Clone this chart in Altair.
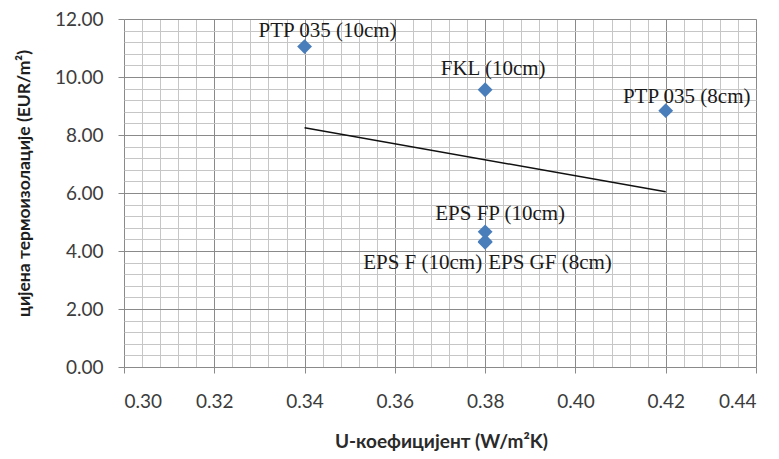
import altair as alt
import pandas as pd

# ---- data ----
names = ["PTP 035 (10cm)", "FKL (10cm)", "PTP 035 (8cm)", "EPS FP (10cm)", "EPS F (10cm)", "EPS GF (8cm)"]
u_values = [0.34, 0.38, 0.42, 0.38, 0.38, 0.38]
prices = [11.05, 9.56, 8.84, 4.66, 4.33, 4.30]

trend_u = [0.34, 0.42]
trend_price = [8.25, 6.04]

major_x = [0.30, 0.32, 0.34, 0.36, 0.38, 0.40, 0.42, 0.44]
major_y = [0, 2, 4, 6, 8, 10, 12]
minor_x = [round(0.30 + i * 0.004, 3) for i in range(36) if i % 5 != 0]
minor_y = [round(i * 0.4, 1) for i in range(31) if i % 5 != 0]

# label styling (align, dx, dy) -- presentation only
label_style = {
    "PTP 035 (10cm)": ("center", 23, -16),
    "FKL (10cm)": ("center", 8, -21),
    "PTP 035 (8cm)": ("center", 21, -14),
    "EPS FP (10cm)": ("center", 15, -18),
    "EPS F (10cm)": ("right", -3, 22),
    "EPS GF (8cm)": ("left", 3, 21),
}

pts = pd.DataFrame({"name": names, "u": u_values, "price": prices})
trend = pd.DataFrame({"u": trend_u, "price": trend_price})

xscale = alt.Scale(domain=[0.30, 0.44], nice=False, zero=False)
yscale = alt.Scale(domain=[0, 12], nice=False, zero=True)

SANS = "Lato"
MAJOR = "#8a8a8a"
MINOR = "#c6c6c6"

minor = alt.Chart(pts).mark_point(opacity=0).encode(
    x=alt.X("u:Q", scale=xscale,
            axis=alt.Axis(orient="top", values=minor_x, grid=True, gridColor=MINOR,
                          gridWidth=1, labels=False, ticks=False, domain=False, title=None)),
    y=alt.Y("price:Q", scale=yscale,
            axis=alt.Axis(orient="right", values=minor_y, grid=True, gridColor=MINOR,
                          gridWidth=1, labels=False, ticks=False, domain=False, title=None)),
)

line = alt.Chart(trend).mark_line(color="#111111", strokeWidth=1.5).encode(
    x=alt.X("u:Q", scale=xscale,
            axis=alt.Axis(orient="bottom", values=major_x, format=".2f", grid=True,
                          gridColor=MAJOR, gridWidth=1, domain=False,
                          tickColor=MAJOR, tickSize=6, labelPadding=19,
                          labelFont=SANS, labelFontSize=19, labelColor="#3c3c3c",
                          title="U-коефицијент (W/m²K)", titleFont=SANS,
                          titleFontSize=19, titleFontWeight="bold", titleColor="#2a2a2a",
                          titleX=317, titleY=74, titleBaseline="middle")),
    y=alt.Y("price:Q", scale=yscale,
            axis=alt.Axis(orient="left", values=major_y, format=".2f", grid=True,
                          gridColor=MAJOR, gridWidth=1, domain=False,
                          tickColor=MAJOR, tickSize=6, labelPadding=15,
                          labelFont=SANS, labelFontSize=19, labelColor="#3c3c3c",
                          title="цијена термоизолације  (EUR/m²)", titleFont=SANS,
                          titleFontSize=17.5, titleFontWeight="bold", titleColor="#1e1e1e",
                          titleX=-100, titleY=164, titleBaseline="middle")),
)

points = alt.Chart(pts).mark_point(shape="diamond", filled=True, size=220, opacity=1,
                                   color="#4a7ebb").encode(
    x=alt.X("u:Q", scale=xscale, axis=None),
    y=alt.Y("price:Q", scale=yscale, axis=None),
)

label_layers = []
for n in names:
    align, dx, dy = label_style[n]
    label_layers.append(
        alt.Chart(pts).transform_filter(alt.datum.name == n).mark_text(
            font="Liberation Serif", fontSize=21, color="#1a1a1a",
            align=align, baseline="middle", dx=dx, dy=dy
        ).encode(
            x=alt.X("u:Q", scale=xscale, axis=None),
            y=alt.Y("price:Q", scale=yscale, axis=None),
            text="name:N",
        )
    )

chart = alt.layer(minor, line, points, *label_layers).resolve_axis(
    x="independent", y="independent"
).properties(
    width=632, height=348,
    autosize=alt.AutoSizeParams(type="none"),
    padding={"left": 116, "top": 11, "right": 5, "bottom": 90},
).configure_view(stroke=None).configure(background="white")

chart.save("out.html", embed_options={"renderer": "svg", "actions": False})
